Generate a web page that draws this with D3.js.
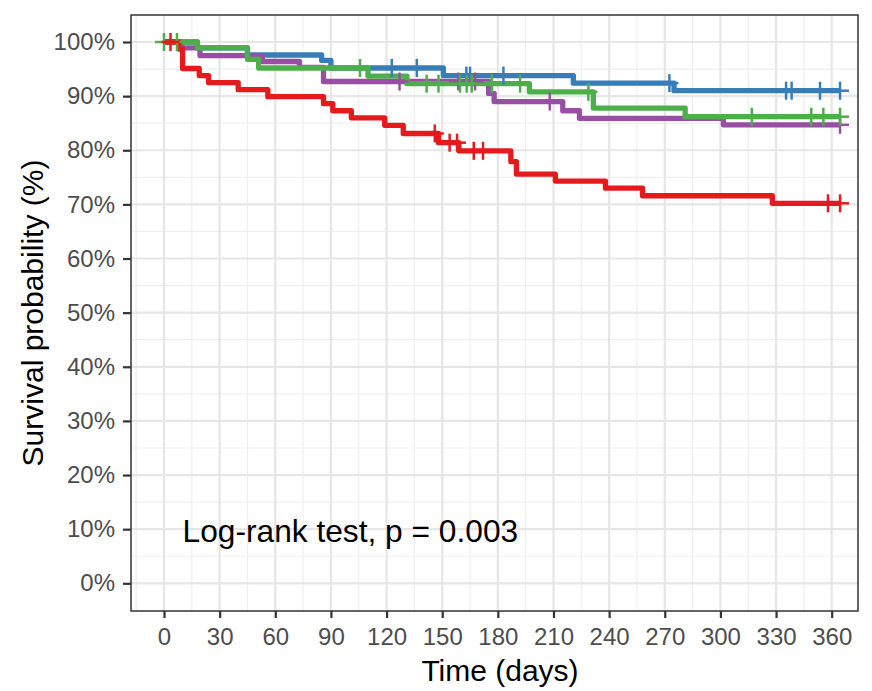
<!DOCTYPE html>
<html>
<head>
<meta charset="utf-8">
<script src="https://cdn.jsdelivr.net/npm/d3@7/dist/d3.min.js"></script>
<style>
  body { margin: 0; background: #fff; }
  svg { font-family: "Liberation Sans", Arial, Helvetica, sans-serif; }
</style>
</head>
<body>
<svg id="chart" width="872" height="691"></svg>
<script>
// ---- Data ----
const xTicks = [0, 30, 60, 90, 120, 150, 180, 210, 240, 270, 300, 330, 360];
const yTicks = [0, 10, 20, 30, 40, 50, 60, 70, 80, 90, 100];
const endDay = 365;

// Step points: [day, survival % after the event]
const redSteps = [[0,100],[8,98.7],[10,95.1],[19,93.8],[24,92.5],[40,91.2],[56,89.9],[86,88.6],[91,87.3],[101,86.0],[119,84.6],[129,83.1],[148,81.4],[159,79.9],[187,77.9],[190,75.6],[211,74.3],[238,73.0],[258,71.6],[328,70.2]];
const redCensor = [3.5, 146, 154, 158, 167, 172, 358, 364.5];

const blueSteps = [[0,100],[18,98.9],[45,97.6],[85,96.6],[90,95.2],[150.6,93.8],[220.7,92.4],[275,91.0]];
const blueCensor = [122.8, 136.3, 163, 165, 183, 272.5, 335.4, 338.4, 353.7, 364.5];

const greenSteps = [[0,100],[18,98.9],[45,96.8],[51,95.2],[110,93.7],[131,92.3],[197,90.8],[231.5,87.8],[281,86.2]];
const greenCensor = [0, 7, 105.7, 141.6, 148, 159.6, 163.2, 165.9, 176.7, 192, 228.8, 316.9, 349, 355.5, 364.5];

const purpleSteps = [[0,100],[9.5,98.9],[19.4,97.5],[53,96.4],[73,95.3],[86,92.7],[175,90.5],[178,89.0],[215,87.3],[224,85.9],[301.6,84.7]];
const purpleCensor = [127, 158.7, 167.7, 208, 364.5];

const seriesNames = ["blue", "purple", "green", "red"];
const seriesColors = ["#377EB8", "#984EA3", "#4DAF4A", "#E41A1C"];
const seriesSteps = [blueSteps, purpleSteps, greenSteps, redSteps];
const seriesCensor = [blueCensor, purpleCensor, greenCensor, redCensor];

const annotation = "Log-rank test, p = 0.003";
const xTitle = "Time (days)";
const yTitle = "Survival probability (%)";

// ---- Layout ----
const svg = d3.select("#chart");
const panel = { left: 131, right: 858, top: 15, bottom: 611 };

const x = d3.scaleLinear().domain([0, 360]).range([164, 831.7]);
const y = d3.scaleLinear().domain([0, 100]).range([583.3, 42]);

// panel background
svg.append("rect").attr("x", panel.left).attr("y", panel.top)
  .attr("width", panel.right - panel.left).attr("height", panel.bottom - panel.top)
  .attr("fill", "#fff");

// minor gridlines
const xMinor = d3.range(-15, 380, 30).filter(d => x(d) > panel.left && x(d) < panel.right);
const yMinor = d3.range(5, 100, 10);
const grid = svg.append("g");
grid.selectAll(".xminor").data(xMinor).join("line")
  .attr("x1", d => x(d)).attr("x2", d => x(d))
  .attr("y1", panel.top).attr("y2", panel.bottom)
  .attr("stroke", "#efefef").attr("stroke-width", 1.2);
grid.selectAll(".yminor").data(yMinor).join("line")
  .attr("x1", panel.left).attr("x2", panel.right)
  .attr("y1", d => y(d)).attr("y2", d => y(d))
  .attr("stroke", "#efefef").attr("stroke-width", 1.2);
// major gridlines
grid.selectAll(".xmajor").data(xTicks).join("line")
  .attr("x1", d => x(d)).attr("x2", d => x(d))
  .attr("y1", panel.top).attr("y2", panel.bottom)
  .attr("stroke", "#e6e6e6").attr("stroke-width", 2.2);
grid.selectAll(".ymajor").data(yTicks).join("line")
  .attr("x1", panel.left).attr("x2", panel.right)
  .attr("y1", d => y(d)).attr("y2", d => y(d))
  .attr("stroke", "#e6e6e6").attr("stroke-width", 2.2);

// ---- Curves ----
const line = d3.line().x(d => x(d[0])).y(d => y(d[1])).curve(d3.curveStepAfter);
function survAt(steps, t) {
  let s = steps[0][1];
  for (const p of steps) { if (p[0] <= t) s = p[1]; }
  return s;
}
seriesSteps.forEach((steps, i) => {
  const pts = steps.concat([[endDay, steps[steps.length - 1][1]]]);
  svg.append("path").datum(pts)
    .attr("d", line)
    .attr("fill", "none")
    .attr("stroke", seriesColors[i])
    .attr("stroke-width", 5.3)
    .attr("stroke-linejoin", "round")
    .attr("stroke-linecap", "butt");
});
seriesCensor.forEach((cens, i) => {
  const g = svg.append("g");
  const h = 9;
  cens.forEach(t => {
    const cx = x(t), cy = y(survAt(seriesSteps[i], t));
    g.append("line").attr("x1", cx - h).attr("x2", cx + h).attr("y1", cy).attr("y2", cy)
      .attr("stroke", seriesColors[i]).attr("stroke-width", 2.5);
    g.append("line").attr("x1", cx).attr("x2", cx).attr("y1", cy - h).attr("y2", cy + h)
      .attr("stroke", seriesColors[i]).attr("stroke-width", 2.5);
  });
});

// panel border
svg.append("rect").attr("x", panel.left).attr("y", panel.top)
  .attr("width", panel.right - panel.left).attr("height", panel.bottom - panel.top)
  .attr("fill", "none").attr("stroke", "#333").attr("stroke-width", 1.5);

// ---- Axes ----
const xAxis = svg.append("g").attr("transform", `translate(0,${panel.bottom})`)
  .call(d3.axisBottom(x).tickValues(xTicks).tickSize(7).tickPadding(10).tickFormat(d3.format("d")));
const yAxis = svg.append("g").attr("transform", `translate(${panel.left},0)`)
  .call(d3.axisLeft(y).tickValues(yTicks).tickSize(8).tickPadding(8).tickFormat(d => d + "%"));
[xAxis, yAxis].forEach(a => {
  a.select(".domain").remove();
  a.selectAll(".tick line").attr("stroke", "#333").attr("stroke-width", 2.2);
  a.selectAll(".tick text").attr("fill", "#4d4d4d").style("font-size", "24px")
    .style("font-family", "'Liberation Sans', Arial, sans-serif");
});

// titles
svg.append("text").attr("x", 500).attr("y", 681)
  .attr("text-anchor", "middle").style("font-size", "30px").attr("fill", "#000").text(xTitle);
svg.append("text").attr("transform", `translate(43,${(panel.top + panel.bottom) / 2}) rotate(-90)`)
  .attr("text-anchor", "middle").style("font-size", "30px").attr("fill", "#000").text(yTitle);

// annotation
svg.append("text").attr("x", x(10)).attr("y", y(7.6))
  .style("font-size", "31.7px").attr("fill", "#000").text(annotation);
</script>
</body>
</html>
